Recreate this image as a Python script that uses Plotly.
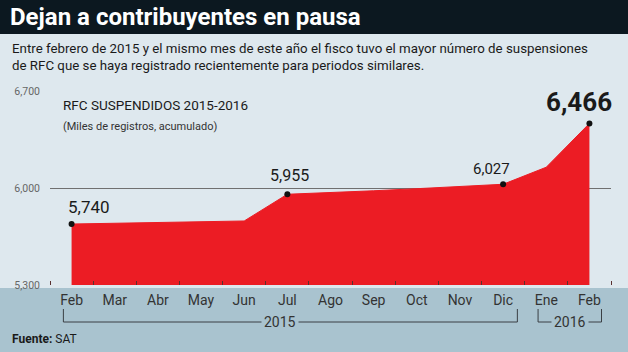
import plotly.graph_objects as go

months = ["Feb", "Mar", "Abr", "May", "Jun", "Jul", "Ago", "Sep", "Oct", "Nov", "Dic", "Ene", "Feb"]
values = [5740, 5745, 5750, 5755, 5762, 5955, 5965, 5980, 5995, 6010, 6027, 6150, 6466]
labeled = {0: (17, 17, 17, False), 5: (2, 19, 16, False), 10: (-12, 15, 15, False), 12: (-10, 21, 26, True)}
ytick_vals = [5300, 6000, 6700]
ytick_text = ["5,300", "6,000", "6,700"]
years = [("2015", 0, 10), ("2016", 11, 12)]

FONT = "Roboto, sans-serif"
BG = "#dee8ee"
BAND = "#a9c3cf"
RED = "#ec1c24"

x = list(range(len(months)))
fig = go.Figure()
fig.add_trace(go.Scatter(x=x, y=values, mode="lines", fill="tozeroy",
                         line=dict(color=RED, width=1), fillcolor=RED, hoverinfo="skip"))
mi = sorted(labeled)
fig.add_trace(go.Scatter(x=[x[i] for i in mi], y=[values[i] for i in mi], mode="markers",
                         marker=dict(color="#111", size=6), hoverinfo="skip"))

W, H = 628, 352
ml, mr, mt, mb = 50, 17, 91, 67
pw, ph = W - ml - mr, H - mt - mb

def py(p):  # pixel y -> paper
    return (H - mb - p) / ph

def px(p):
    return (p - ml) / pw

shapes = [
    dict(type="rect", xref="paper", yref="paper", x0=px(-5), x1=px(W + 5), y0=py(H + 5), y1=py(288),
         fillcolor=BAND, line=dict(width=0), layer="below"),
    dict(type="rect", xref="paper", yref="paper", x0=px(-5), x1=px(W + 5), y0=py(34), y1=py(-5),
         fillcolor="#0c1820", line=dict(width=0), layer="below"),
]
annotations = []
# year brackets
yl, yv = py(322), py(309)
for name, a, b in years:
    x0 = a - 0.19
    x1 = b + 0.33 if b < 12 else b + 0.28
    shapes.append(dict(type="path", xref="x", yref="paper",
                       path=f"M {x0},{yv} L {x0},{yl} L {x1},{yl} L {x1},{yv}",
                       line=dict(color="#3a3f44", width=1)))
    annotations.append(dict(x=(x0 + x1) / 2 - (0.25 if name == "2015" else 0), xref="x", y=yl, yref="paper",
                            yanchor="middle", xanchor="center",
                            text=name, showarrow=False, bgcolor=BAND, borderpad=2,
                            font=dict(family=FONT, size=14, color="#333")))

for i, (dx, dy, sz, bold) in labeled.items():
    t = f"{values[i]:,}"
    annotations.append(dict(x=x[i], y=values[i], xref="x", yref="y", text=f"<b>{t}</b>" if bold else t,
                            showarrow=False, xshift=dx, yshift=dy,
                            font=dict(family=FONT, size=sz, color="#1a1a1a")))

annotations += [
    dict(xref="paper", yref="paper", x=px(8), y=py(17), xanchor="left", yanchor="middle",
         text="<b>Dejan a contribuyentes en pausa</b>", showarrow=False,
         font=dict(family=FONT, size=24, color="white")),
    dict(xref="paper", yref="paper", x=px(10), y=py(57), xanchor="left", yanchor="middle", align="left",
         text="Entre febrero de 2015 y el mismo mes de este año el fisco tuvo el mayor número de suspensiones<br>de RFC que se haya registrado recientemente para periodos similares.",
         showarrow=False, font=dict(family=FONT, size=13.3, color="#1a1a1a")),
    dict(xref="paper", yref="paper", x=px(61), y=py(105), xanchor="left", yanchor="middle",
         text="RFC SUSPENDIDOS 2015-2016", showarrow=False,
         font=dict(family=FONT, size=13.5, color="#1a1a1a")),
    dict(xref="paper", yref="paper", x=px(61), y=py(126), xanchor="left", yanchor="middle",
         text="(Miles de registros, acumulado)", showarrow=False,
         font=dict(family=FONT, size=11, color="#333")),
    dict(xref="paper", yref="paper", x=px(10), y=py(339), xanchor="left", yanchor="middle",
         text="<b>Fuente:</b> SAT", showarrow=False,
         font=dict(family=FONT, size=12, color="#1a1a1a")),
]

fig.update_layout(
    width=W, height=H, margin=dict(l=ml, r=mr, t=mt, b=mb),
    paper_bgcolor=BG, plot_bgcolor=BG, showlegend=False,
    shapes=shapes, annotations=annotations,
    xaxis=dict(range=[-0.5, 12.5], tickvals=x, ticktext=months, ticks="", showgrid=False,
               zeroline=False, showline=False, ticklabelstandoff=5,
               tickfont=dict(family=FONT, size=14, color="#333"),
               minor=dict(ticks="inside", tick0=0.5, dtick=1, ticklen=4, tickcolor="#5a3030", tickwidth=1),
               fixedrange=True),
    yaxis=dict(range=[5300, 6700], tickvals=ytick_vals, ticktext=ytick_text, showgrid=True,
               gridcolor="#707070", gridwidth=1, zeroline=False, ticks="",
               tickfont=dict(family=FONT, size=10.5, color="#666"), ticklabelstandoff=9,
               fixedrange=True),
)
fig.write_html("out.html")
